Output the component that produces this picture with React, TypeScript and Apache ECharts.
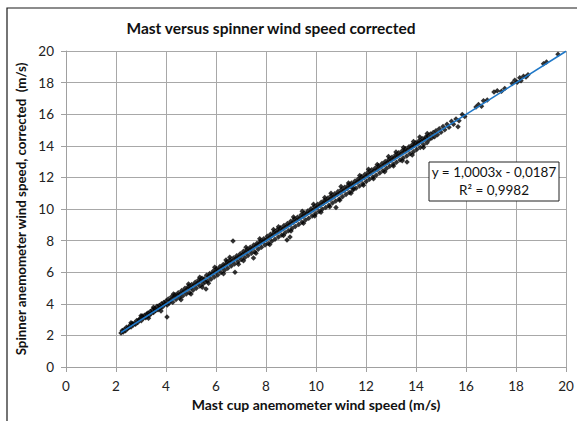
import React, { useEffect, useRef } from "react";
import * as echarts from "echarts";

const chartTitle = "Mast versus spinner wind speed corrected";
const xAxisName = "Mast cup anemometer wind speed (m/s)";
const yAxisName = "Spinner anemometer wind speed, corrected  (m/s)";
const equationText = "y = 1,0003x - 0,0187";
const r2Text = "R² = 0,9982";

// measured pairs [mast cup speed, spinner speed corrected]
const lowRange: [number, number][] = [
  [2.2,2.15],[2.25,2.31],[2.29,2.22],[2.33,2.37],[2.38,2.3],[2.42,2.52],[2.47,2.44],[2.51,2.5],[2.56,2.65],[2.6,2.53],
  [2.65,2.76],[2.69,2.66],[2.74,2.79],[2.78,2.71],[2.83,2.95],[2.87,2.82],[2.92,2.99],[2.96,3.05],[3.01,2.93],[3.05,3.22],
  [3.1,3.08],[3.14,3.27],[3.19,3.12],[3.23,3.36],[3.28,3.42],[3.32,3.25],[3.37,3.51],[3.41,3.38],[3.46,3.62],[3.5,3.45],
  [3.55,3.7],[3.59,3.58],[3.64,3.84],[3.68,3.62],[3.73,3.9],[3.77,3.75],[3.82,4.01],[3.86,3.8],[3.91,4.08],[3.95,3.96],
  [4.0,4.18],[2.6,2.8],[3.0,3.25],[3.5,3.78],[3.3,3.08],[3.8,3.55]
];

const midRange: [number, number][] = [
  [4.04,3.16],[4.05,3.92],[4.09,4.3],[4.13,4.05],[4.18,4.22],[4.22,4.44],[4.27,4.1],[4.31,4.4],[4.36,4.58],[4.4,4.28],
  [4.45,4.52],[4.49,4.7],[4.54,4.38],[4.58,4.63],[4.63,4.84],[4.67,4.5],[4.72,4.78],[4.76,4.98],[4.81,4.62],[4.85,4.92],
  [4.9,5.1],[4.94,4.7],[4.99,5.02],[5.03,5.22],[5.08,4.85],[5.12,5.18],[5.17,5.36],[5.21,4.98],[5.26,5.3],[5.3,5.5],
  [5.35,5.12],[5.39,5.44],[5.44,5.62],[5.48,5.25],[5.53,5.58],[5.57,5.4],[5.6,4.94],[5.62,5.8],[5.66,5.45],[5.71,5.74],
  [5.75,5.92],[5.8,5.55],[5.84,5.88],[5.89,6.08],[5.93,5.7],[5.98,6.02],[6.02,6.22],[6.07,5.82],[6.11,6.15],[6.16,6.36],
  [6.2,5.98],[6.25,6.3],[6.29,6.48],[6.34,6.12],[6.38,6.45],[6.43,6.64],[6.47,6.25],[6.52,6.58],[6.56,6.78],[6.61,6.4],
  [6.65,6.7],[6.68,7.97],[6.7,6.9],[6.74,6.52],[6.76,6.0],[6.79,6.85],[6.83,7.04],[6.88,6.66],[6.92,6.98],[6.97,7.16],
  [7.01,6.8],[7.06,7.12],[7.1,7.32],[7.15,6.92],[7.19,7.24],[7.24,7.44],[7.28,7.06],[7.33,7.4],[7.37,7.58],[7.42,7.2],
  [7.46,7.52],[7.5,6.9],[7.51,7.72],[7.55,7.3],[7.6,7.66],[7.64,7.84],[7.69,7.45],[7.73,7.8],[7.78,7.98],[7.82,7.58],
  [7.87,7.92],[7.91,8.12],[7.96,7.72],
  [4.3,4.62],[4.9,5.25],[5.35,5.68],[5.95,6.32],[6.4,6.78],[6.55,6.95],[7.2,7.58],[7.75,8.12],
  [4.6,4.25],[5.0,4.62],[5.45,5.05],[5.7,5.3],[6.3,5.9],[6.9,6.5],[7.1,6.72],[7.6,7.2]
];

const highRange: [number, number][] = [
  [8.0,8.06],[8.05,8.28],[8.09,7.82],[8.14,8.18],[8.18,8.4],[8.23,7.96],[8.27,8.34],[8.32,8.55],[8.36,8.08],[8.41,8.48],
  [8.45,8.68],[8.5,8.22],[8.54,8.6],[8.59,8.82],[8.63,8.36],[8.68,8.74],[8.72,8.95],[8.77,8.5],[8.81,8.88],[8.84,8.04],
  [8.86,9.08],[8.9,8.62],[8.95,9.0],[8.96,8.23],[8.99,9.22],[9.04,8.76],[9.08,9.14],[9.13,9.36],[9.17,8.9],[9.22,9.28],
  [9.26,9.48],[9.31,9.02],[9.35,9.4],[9.4,9.62],[9.44,9.16],[9.49,9.54],[9.53,9.74],[9.58,9.3],[9.62,9.68],[9.67,9.88],
  [9.71,9.42],[9.76,9.8],[9.8,10.02],[9.85,9.56],[9.89,9.94],[9.94,10.16],[9.98,9.7],[10.03,10.08],[10.07,10.3],[10.12,9.84],
  [10.16,10.22],[10.21,10.42],[10.25,9.98],[10.3,10.36],[10.34,10.56],[10.39,10.1],[10.43,10.5],[10.48,10.7],[10.52,10.24],[10.57,10.62],
  [10.61,10.84],[10.66,10.38],[10.7,10.76],[10.75,10.96],[10.79,10.5],[10.8,10.1],[10.84,10.9],[10.88,11.1],[10.93,10.64],[10.97,11.02],
  [11.02,11.24],[11.06,10.78],[11.11,11.16],[11.15,11.38],[11.2,10.92],[11.24,11.3],[11.29,11.5],[11.33,11.04],[11.38,11.42],[11.42,11.64],
  [11.47,11.18],[11.5,11.3],[11.51,11.56],[11.56,11.78],[11.6,11.32],[11.65,11.7],[11.69,11.9],[11.74,11.46],[11.78,11.84],[11.83,12.06],
  [11.87,11.6],[11.92,11.98],[11.96,12.2],[12.01,11.74],[12.05,12.12],[12.1,12.34],[12.14,11.88],[12.19,12.26],[12.23,12.48],[12.28,12.02],
  [12.32,12.4],[12.37,12.6],[12.41,12.14],[12.46,12.52],[12.5,12.74],[12.55,12.28],[12.59,12.66],[12.64,12.88],[12.68,12.42],[12.73,12.8],
  [12.77,13.0],[12.82,12.56],[12.86,12.94],[12.91,13.14],[12.95,12.7],[13.0,13.08],[13.04,13.28],[13.09,12.84],[13.13,13.22],[13.18,13.42],
  [13.22,12.96],[13.27,13.36],[13.31,13.56],[13.36,13.1],[13.4,13.48],[13.45,13.68],[13.49,13.22],[13.54,13.62],[13.58,13.82],[13.63,13.36],
  [13.64,12.97],[13.67,13.74],[13.72,13.94],[13.76,13.5],[13.81,13.88],[13.85,14.06],[13.9,13.62],[13.94,14.02],[13.99,14.2],[14.03,13.76],
  [14.08,14.14],[14.12,14.32],[14.17,13.9],[14.21,14.28],[14.26,14.44],[14.3,14.06],[14.35,14.4],[14.39,14.56],[14.44,14.2],
  [8.3,8.7],[8.5,8.88],[9.1,9.5],[9.45,9.85],[9.9,10.3],[10.35,10.72],[10.6,11.0],[11.0,11.42],[11.3,11.65],[11.75,12.12],
  [12.1,12.52],[12.45,12.82],[12.9,13.32],[13.2,13.6],[13.5,13.9],[13.9,14.28],[14.15,14.55],[14.45,14.78],
  [8.15,7.75],[8.7,8.32],[9.0,8.6],[9.5,9.1],[9.95,9.55],[10.2,9.8],[10.55,10.15],[10.95,10.55],[11.4,11.0],[11.9,11.5],
  [12.3,11.92],[12.75,12.35],[13.1,12.72],[13.45,13.05],[13.85,13.42],[14.3,13.9]
];

const topRange: [number, number][] = [
  [14.48,14.6],[14.52,14.38],[14.58,14.74],[14.63,14.5],[14.69,14.84],[14.74,14.58],[14.8,14.95],[14.86,14.7],[14.93,15.08],[15.0,14.86],
  [15.08,15.22],[15.15,15.02],[15.24,15.36],[15.32,15.18],[15.42,15.55],[15.5,15.36],[15.6,15.7],[15.68,15.2],[15.72,15.58],[15.85,15.98],
  [15.95,15.85],[16.4,16.45],[16.5,16.62],[16.62,16.5],[16.7,16.85],[16.85,16.9],[17.12,17.4],[17.25,17.48],[17.42,17.45],[17.55,17.62],
  [17.85,17.95],[17.95,18.15],[18.05,18.02],[18.15,18.3],[18.2,18.12],[18.3,18.4],[18.4,18.35],[18.48,18.5],[19.1,19.2],[19.22,19.3],
  [19.68,19.8]
];

const measurements: [number, number][] = [...lowRange, ...midRange, ...highRange, ...topRange];

// linear trendline end points
const trendX = [2.2, 20];
const trendY = [2.182, 19.987];

const FONT = "Lato, 'Open Sans', sans-serif";

export default function App() {
  const ref = useRef<HTMLDivElement>(null);
  useEffect(() => {
    if (!ref.current) return;
    const chart = echarts.init(ref.current, null, { renderer: "svg" });
    const axisCommon = {
      type: "value" as const,
      min: 0,
      max: 20,
      interval: 2,
      nameLocation: "middle" as const,
      axisLine: { show: true, lineStyle: { color: "#a0a0a0", width: 1 } },
      axisTick: { show: true, inside: false, length: 5, lineStyle: { color: "#a0a0a0" } },
      splitLine: { show: true, lineStyle: { color: "#a8a8a8", width: 1 } },
      axisLabel: { fontFamily: FONT, fontSize: 13.5, color: "#222", margin: 12 },
    };
    chart.setOption({
      animation: false,
      title: {
        text: chartTitle,
        left: 266,
        top: 15,
        textAlign: "center",
        textStyle: { fontFamily: FONT, fontWeight: "bold", fontSize: 15.5, color: "#111" },
      },
      grid: { left: 66, top: 51, width: 500, height: 316, containLabel: false },
      xAxis: {
        ...axisCommon,
        name: xAxisName,
        nameGap: 27,
        nameTextStyle: { fontFamily: FONT, fontWeight: "bold", fontSize: 14, color: "#111" },
      },
      yAxis: {
        ...axisCommon,
        name: yAxisName,
        nameGap: 30,
        nameTextStyle: { fontFamily: FONT, fontWeight: "bold", fontSize: 13.3, color: "#111" },
      },
      graphic: [
        {
          type: "rect",
          shape: { x: 7, y: 8, width: 640, height: 480 },
          style: { fill: "none", stroke: "#1a1a1a", lineWidth: 1.2 },
          silent: true,
          z: 0,
        },
        {
          type: "rect",
          shape: { x: 429, y: 162, width: 130, height: 39 },
          style: { fill: "#fff", stroke: "#222", lineWidth: 1 },
          z: 100,
        },
        {
          type: "text",
          x: 494,
          y: 172,
          style: { text: equationText, fontFamily: FONT, fontSize: 13.5, fill: "#111", textAlign: "center", textVerticalAlign: "middle" },
          z: 101,
        },
        {
          type: "text",
          x: 494,
          y: 190,
          style: { text: r2Text, fontFamily: FONT, fontSize: 13.5, fill: "#111", textAlign: "center", textVerticalAlign: "middle" },
          z: 101,
        },
      ],
      series: [
        {
          type: "scatter",
          data: measurements,
          symbol: "diamond",
          symbolSize: 5.5,
          itemStyle: { color: "#000" },
          z: 2,
        },
        {
          type: "line",
          data: trendX.map((x, i) => [x, trendY[i]]),
          showSymbol: false,
          symbol: "none",
          lineStyle: { color: "#1f78c8", width: 1.6 },
          z: 3,
        },
      ],
    });
    return () => chart.dispose();
  }, []);
  return (
    <div
      ref={ref}
      style={{ position: "absolute", left: 0, top: 0, width: 577, height: 421, background: "#fff" }}
    />
  );
}
